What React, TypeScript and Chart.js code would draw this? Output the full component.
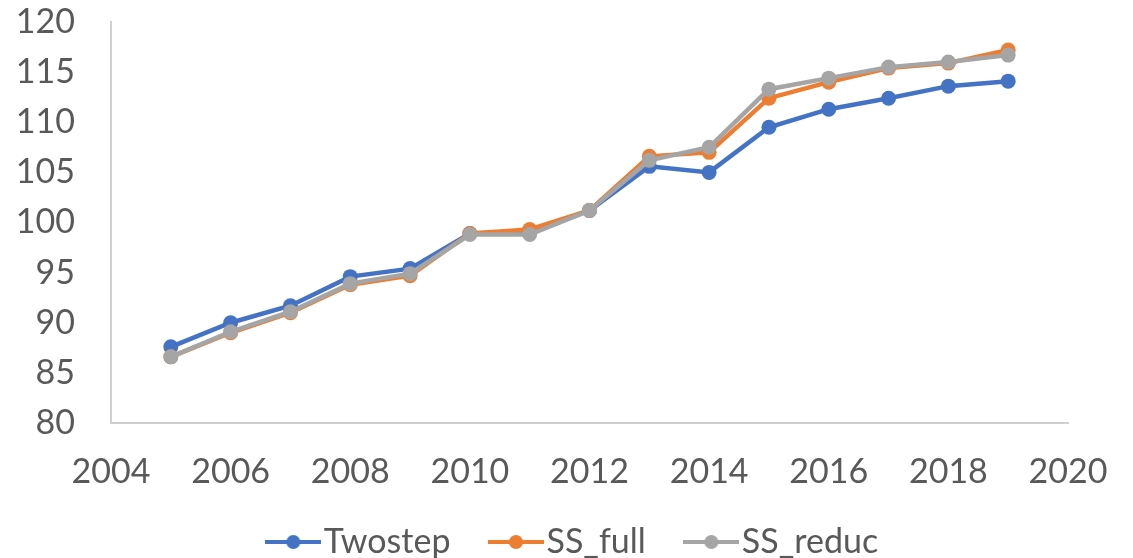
import React, { useEffect, useRef } from "react";
import { Chart, registerables } from "chart.js";

Chart.register(...registerables);

const years = [2005, 2006, 2007, 2008, 2009, 2010, 2011, 2012, 2013, 2014, 2015, 2016, 2017, 2018, 2019];
const twostep = [87.6, 90.0, 91.7, 94.6, 95.4, 98.9, 99.0, 101.2, 105.6, 105.0, 109.5, 111.3, 112.4, 113.6, 114.1];
const ssFull = [86.6, 89.0, 91.0, 93.8, 94.7, 98.9, 99.3, 101.2, 106.6, 107.0, 112.4, 114.0, 115.4, 115.9, 117.2];
const ssReduc = [86.6, 89.1, 91.1, 93.9, 94.9, 98.8, 98.8, 101.2, 106.2, 107.5, 113.3, 114.4, 115.5, 116.0, 116.7];
const seriesNames = ["Twostep", "SS_full", "SS_reduc"];
const seriesColors = ["#4472C4", "#ED7D31", "#A5A5A5"];

const FONT = "Lato, 'Open Sans', sans-serif";
const TEXT = "#595959";
const FS = 34;

function legendIcon(color: string): HTMLCanvasElement {
  const c = document.createElement("canvas");
  c.width = 56;
  c.height = 16;
  const ctx = c.getContext("2d")!;
  ctx.strokeStyle = color;
  ctx.lineWidth = 4;
  ctx.beginPath();
  ctx.moveTo(0, 8);
  ctx.lineTo(56, 8);
  ctx.stroke();
  ctx.fillStyle = color;
  ctx.beginPath();
  ctx.arc(28, 8, 7, 0, Math.PI * 2);
  ctx.fill();
  return c;
}

// Moves the legend box so it sits where the reference has it
const legendPlacer = {
  id: "legendPlacer",
  afterLayout(chart: any) {
    const lg = chart.legend;
    if (!lg) return;
    const h = lg.bottom - lg.top;
    lg.left = 90;
    lg.right = 1068;
    lg.width = lg.right - lg.left;
    lg.top = lg.top - 30;
    lg.bottom = lg.top + h;
  },
};

export default function App() {
  const ref = useRef<HTMLCanvasElement | null>(null);
  useEffect(() => {
    if (!ref.current) return;
    const icons = seriesColors.map(legendIcon);
    const allSeries = [twostep, ssFull, ssReduc];
    const chart = new Chart(ref.current, {
      type: "line",
      data: {
        datasets: allSeries.map((vals, i) => ({
          label: seriesNames[i],
          data: years.map((y, j) => ({ x: y, y: vals[j] })),
          borderColor: seriesColors[i],
          backgroundColor: seriesColors[i],
          pointBackgroundColor: seriesColors[i],
          pointBorderColor: seriesColors[i],
          borderWidth: 4.5,
          pointRadius: 7.5,
          pointBorderWidth: 0,
          pointStyle: "circle",
          tension: 0,
          order: 3 - i,
        })) as any,
      },
      plugins: [legendPlacer],
      options: {
        animation: false,
        responsive: false,
        maintainAspectRatio: false,
        layout: { padding: { top: 22, right: 65, left: 0, bottom: 0 } },
        plugins: {
          tooltip: { enabled: false },
          legend: {
            position: "bottom",
            labels: {
              usePointStyle: true,
              pointStyleWidth: 27,
              padding: 52,
              color: TEXT,
              font: { family: FONT, size: FS },
              generateLabels: () =>
                seriesNames.map((n, i) => ({
                  text: n,
                  fillStyle: seriesColors[i],
                  strokeStyle: seriesColors[i],
                  lineWidth: 0,
                  pointStyle: icons[i],
                  datasetIndex: i,
                  hidden: false,
                  fontColor: TEXT,
                })),
            },
          },
        },
        scales: {
          x: {
            type: "linear",
            min: 2004,
            max: 2020,
            ticks: {
              stepSize: 2,
              color: TEXT,
              font: { family: FONT, size: FS },
              padding: 0,
              maxRotation: 0,
              autoSkip: false,
              callback: (v: any) => String(v),
            },
            grid: {
              display: true,
              drawOnChartArea: false,
              drawTicks: true,
              tickLength: 29,
              color: "rgba(0,0,0,0)",
            },
            border: { display: true, color: "#cfcfcf", width: 2 },
            afterFit: (s: any) => {
              s.height = 80;
            },
          },
          y: {
            min: 80,
            max: 120,
            ticks: {
              stepSize: 5,
              color: TEXT,
              font: { family: FONT, size: FS },
              padding: 0,
              autoSkip: false,
            },
            grid: {
              display: true,
              drawOnChartArea: false,
              drawTicks: true,
              tickLength: 36,
              color: "rgba(0,0,0,0)",
            },
            border: { display: true, color: "#cfcfcf", width: 2 },
            afterFit: (s: any) => {
              s.width = 111;
            },
          },
        },
      },
    });
    return () => chart.destroy();
  }, []);
  return (
    <div style={{ position: "fixed", left: 0, top: 0, width: 1133, height: 558, overflow: "hidden", background: "#fff" }}>
      <canvas ref={ref} width={1133} height={599} style={{ width: 1133, height: 599, display: "block" }} />
    </div>
  );
}
